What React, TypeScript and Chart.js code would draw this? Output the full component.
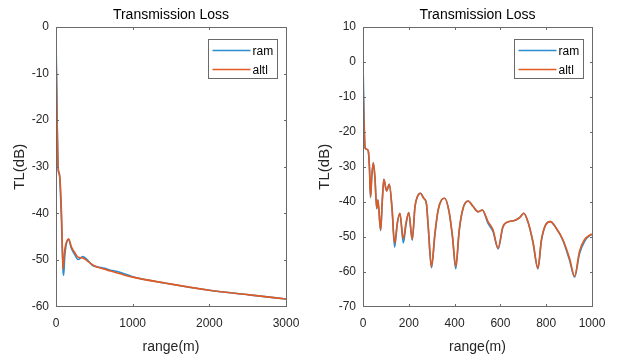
import React, { useEffect, useRef } from "react";
import { Chart, registerables } from "chart.js";
Chart.register(...registerables);

const SERIES_NAMES = ["ram", "altl"];
const CHART_TITLE = "Transmission Loss";
const X_LABEL = "range(m)";
const Y_LABEL = "TL(dB)";

// Left panel: full range 0..3000 m
const LEFT_RANGE = [0, 5, 14, 27, 35, 48, 72, 92, 100, 113, 130, 165, 200, 243, 286, 350, 415, 480, 545, 632, 710, 800, 1000, 1435, 2000, 2520, 3000];
const LEFT_ALTL = [-5, -10, -20, -30, -31.3, -32, -40, -52, -50.5, -48, -46.5, -45.5, -47.2, -48.4, -49.4, -49.6, -50.3, -51.1, -51.6, -52, -52.4, -52.8, -53.7, -55, -56.5, -57.5, -58.4];
const LEFT_RAM = [-2.5, -8, -19, -30, -31, -32.2, -42, -52.3, -53.3, -49.5, -47, -45.6, -47.5, -48.8, -49.9, -49.3, -50.1, -51.2, -51.5, -51.8, -52.2, -52.5, -53.6, -55, -56.5, -57.5, -58.4];

// Right panel: 0..1000 m
const RIGHT_RANGE = [0, 4, 9, 16, 23, 28, 33, 38, 45, 52, 60, 65, 77, 84, 91, 103, 115, 127, 138, 150, 161, 176, 188, 200, 215, 227, 238, 251, 265, 277, 285, 299, 314, 328, 343, 357, 376, 391, 405, 420, 437, 459, 481, 503, 521, 546, 568, 590, 611, 638, 662, 685, 702, 720, 742, 764, 779, 797, 818, 844, 873, 902, 924, 945, 967, 992, 1000];
const RIGHT_ALTL = [-5.7, -16.7, -24.7, -25, -25.5, -30, -38.6, -33, -28.9, -33, -41.9, -39.5, -48.1, -40, -33.6, -36.9, -35, -42, -51.9, -46, -43.3, -50.6, -46, -43.1, -50.8, -41.4, -38.5, -37.6, -39, -40.5, -47.1, -58.6, -49, -42.4, -39.5, -39, -42.9, -50, -58.6, -48.1, -41.9, -39.8, -41.4, -42.9, -42.4, -45.7, -48.1, -53.3, -47.1, -45.7, -45.4, -44.5, -43.3, -45.7, -51.4, -59, -50.9, -46.7, -45.7, -47.6, -50.9, -56.2, -61.4, -54.3, -50.9, -49.5, -49.3];
const RIGHT_RAM = [0.5, -14, -24.5, -25, -25.5, -30, -38.8, -33, -28.9, -33, -42, -39.5, -48.3, -40, -33.6, -36.9, -35, -42.3, -53, -46.3, -43.3, -51.8, -46.5, -43.1, -51, -41.4, -38.5, -37.6, -39, -40.7, -47.5, -58.9, -49.5, -42.4, -39.5, -39, -42.9, -50.3, -59.2, -48.5, -41.9, -39.8, -41.4, -42.9, -42.4, -46.2, -48.6, -53.5, -47.3, -45.7, -45.4, -44.5, -43.3, -45.7, -51.6, -59.2, -51.2, -46.7, -45.7, -47.6, -51.1, -56.8, -61.6, -55, -51.4, -49.6, -49.4];

const COLORS = ["#2b8cd0", "#e05a22"];
const FONT = "'Liberation Sans', Arial, Helvetica, sans-serif";

const boxPlugin = {
  id: "matlabBox",
  afterDraw(chart: any) {
    const { ctx, chartArea } = chart;
    const l = Math.floor(chartArea.left) + 0.5;
    const r = Math.floor(chartArea.right) + 0.5;
    const t = Math.floor(chartArea.top) + 0.5;
    const b = Math.floor(chartArea.bottom) + 0.5;
    ctx.save();
    ctx.strokeStyle = "#6a6a6a";
    ctx.lineWidth = 1;
    ctx.strokeRect(l, t, r - l, b - t);
    const tl = 2.5;
    ctx.beginPath();
    const xs = chart.scales.x;
    xs.ticks.forEach((tk: any) => {
      const px = Math.round(xs.getPixelForValue(tk.value)) + 0.5;
      if (px <= l + 1 || px >= r - 1) return;
      ctx.moveTo(px, b);
      ctx.lineTo(px, b - tl);
      ctx.moveTo(px, t);
      ctx.lineTo(px, t + tl);
    });
    const ys = chart.scales.y;
    ys.ticks.forEach((tk: any) => {
      const py = Math.round(ys.getPixelForValue(tk.value)) + 0.5;
      if (py <= t + 1 || py >= b - 1) return;
      ctx.moveTo(l, py);
      ctx.lineTo(l + tl, py);
      ctx.moveTo(r, py);
      ctx.lineTo(r - tl, py);
    });
    ctx.stroke();

    // legend box (northeast)
    const bw = 69;
    const bh = 39;
    const bx = Math.floor(chartArea.right - 9 - bw) + 0.5;
    const by = Math.floor(chartArea.top + 12) + 0.5;
    ctx.fillStyle = "#ffffff";
    ctx.fillRect(bx, by, bw, bh);
    ctx.strokeStyle = "#6a6a6a";
    ctx.strokeRect(bx, by, bw, bh);
    ctx.font = "12px " + FONT;
    ctx.textBaseline = "middle";
    ctx.textAlign = "left";
    chart.data.datasets.forEach((ds: any, i: number) => {
      const ly = by + 11 + i * 19;
      ctx.strokeStyle = ds.borderColor;
      ctx.lineWidth = 1.6;
      ctx.beginPath();
      ctx.moveTo(bx + 4, ly);
      ctx.lineTo(bx + 42, ly);
      ctx.stroke();
      ctx.fillStyle = "#000";
      ctx.fillText(ds.label, bx + 44, ly + 1);
    });
    ctx.restore();
  },
};

type PanelProps = {
  range: number[];
  ram: number[];
  altl: number[];
  xMax: number;
  xStep: number;
  yMin: number;
  yMax: number;
  left: number;
  padRight: number;
  yTitlePad: number;
};

function Panel(p: PanelProps) {
  const ref = useRef<HTMLCanvasElement>(null);
  useEffect(() => {
    if (!ref.current) return;
    const mk = (vals: number[]) => p.range.map((x, i) => ({ x, y: vals[i] }));
    const chart = new Chart(ref.current, {
      type: "line",
      data: {
        datasets: [
          { label: SERIES_NAMES[0], data: mk(p.ram), borderColor: COLORS[0], backgroundColor: COLORS[0], borderWidth: 1.6, pointRadius: 0, cubicInterpolationMode: "monotone", order: 2 },
          { label: SERIES_NAMES[1], data: mk(p.altl), borderColor: COLORS[1], backgroundColor: COLORS[1], borderWidth: 1.6, pointRadius: 0, cubicInterpolationMode: "monotone", order: 1 },
        ],
      },
      options: {
        animation: false,
        responsive: false,
        maintainAspectRatio: false,
        layout: { padding: { left: 0, right: p.padRight, top: 0, bottom: 0 } },
        plugins: {
          legend: { display: false },
          tooltip: { enabled: false },
          title: {
            display: true,
            text: CHART_TITLE,
            fullSize: false,
            color: "#000",
            font: { family: FONT, size: 14, weight: "normal" },
            padding: { top: 6.6, bottom: 3.6 },
          },
        },
        scales: {
          x: {
            type: "linear",
            min: 0,
            max: p.xMax,
            grid: { display: false, drawTicks: false },
            border: { display: false },
            ticks: { stepSize: p.xStep, padding: 9.5, color: "#262626", font: { family: FONT, size: 12 }, maxRotation: 0, callback: (v: any) => String(v) },
            title: { display: true, text: X_LABEL, color: "#262626", font: { family: FONT, size: 14 }, padding: { top: 0, bottom: 5.6 } },
            afterFit: (s: any) => { s.height = 54.5; },
          },
          y: {
            type: "linear",
            min: p.yMin,
            max: p.yMax,
            grid: { display: false, drawTicks: false },
            border: { display: false },
            ticks: { stepSize: 10, padding: 7, color: "#262626", font: { family: FONT, size: 12 }, callback: (v: any) => String(v) },
            title: { display: true, text: Y_LABEL, color: "#262626", font: { family: FONT, size: 15 }, padding: { top: p.yTitlePad, bottom: 0 } },
            afterFit: (s: any) => { s.width = 56; },
          },
        },
      } as any,
      plugins: [boxPlugin],
    });
    return () => chart.destroy();
  }, []);
  return (
    <canvas
      ref={ref}
      width={310}
      height={361}
      style={{ position: "absolute", left: p.left, top: 0, width: 310, height: 361 }}
    />
  );
}

export default function App() {
  return (
    <div style={{ position: "absolute", left: 0, top: 0, width: 617, height: 361, background: "#fff", overflow: "hidden" }}>
      <Panel range={LEFT_RANGE} ram={LEFT_RAM} altl={LEFT_ALTL} xMax={3000} xStep={1000} yMin={-60} yMax={0} left={0} padRight={24} yTitlePad={11} />
      <Panel range={RIGHT_RANGE} ram={RIGHT_RAM} altl={RIGHT_ALTL} xMax={1000} xStep={200} yMin={-70} yMax={10} left={307} padRight={25} yTitlePad={9} />
    </div>
  );
}
